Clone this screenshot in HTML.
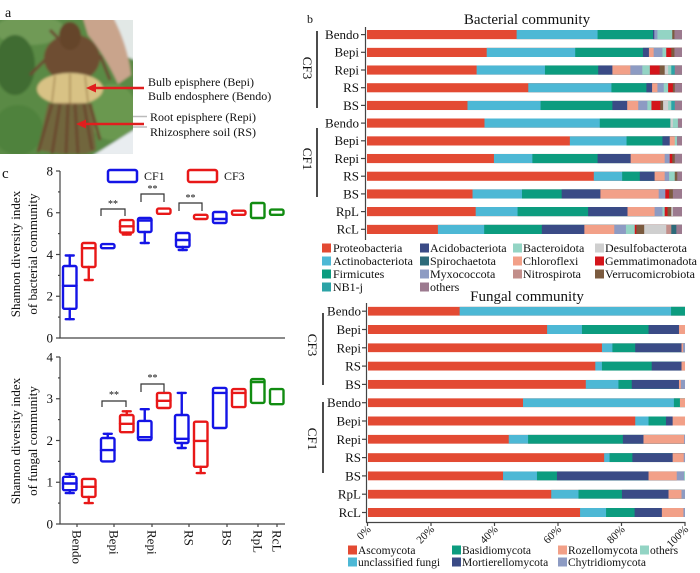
<!DOCTYPE html>
<html><head><meta charset="utf-8"><style>
html,body{margin:0;padding:0;background:#fff;width:700px;height:573px;overflow:hidden}
svg{display:block}
text{font-family:"Liberation Serif",serif;fill:#111}
.P{fill:#E34A33}.A{fill:#4DB8D5}.F{fill:#0C9C7F}.N{fill:#2BA3A6}.Ac{fill:#3A4B86}.S{fill:#2D6B7A}.M{fill:#8D9BC3}.O{fill:#9C7A8F}.B{fill:#93D4C4}.C{fill:#F2A088}.Ni{fill:#C28E8A}.D{fill:#CFCFCF}.G{fill:#D4151B}.V{fill:#7B5B3F}
.lb{font-size:13px;text-anchor:end}
.lg{font-size:12px}
.lf{font-size:11.5px}
.ax{stroke:#444;stroke-width:1.2;fill:none}
.bx rect{fill:#fff}
.bl{stroke:#1414E6}.rd{stroke:#E81818}.gn{stroke:#118C11}
.bx{stroke-width:2.4;fill:none;stroke-linecap:round}
</style></head><body>
<svg width="700" height="573" viewBox="0 0 700 573" xmlns="http://www.w3.org/2000/svg">
<defs>
<clipPath id="pc"><rect x="0" y="20" width="133" height="134"/></clipPath>
<filter id="bl1" x="-5%" y="-5%" width="110%" height="110%"><feGaussianBlur stdDeviation="1.3"/></filter>
</defs>

<!-- Panel a -->
<text x="5" y="17" style="font-size:14px">a</text>
<g clip-path="url(#pc)">
<g filter="url(#bl1)">
<rect x="-5" y="15" width="145" height="145" fill="#5a8a45"/>
<ellipse cx="30" cy="30" rx="35" ry="15" fill="#6f9a56"/>
<ellipse cx="15" cy="65" rx="20" ry="30" fill="#3f6c30"/>
<ellipse cx="18" cy="130" rx="25" ry="25" fill="#4f823c"/>
<ellipse cx="112" cy="112" rx="25" ry="28" fill="#6a9850"/>
<polygon points="106,15 140,15 140,62 122,55" fill="#e2e8e6"/>
<path d="M82 15 L112 15 Q128 45 131 75 L118 84 Q105 55 88 35 Z" fill="#c9a48c"/>
<ellipse cx="72" cy="58" rx="28" ry="24" fill="#6e4e33"/>
<ellipse cx="70" cy="36" rx="11" ry="14" fill="#654529"/>
<path d="M45 60 L30 75 M100 55 L110 80 M60 40 L50 30" stroke="#6a4a30" stroke-width="3"/>
<ellipse cx="70" cy="89" rx="33" ry="16" fill="#d8c285"/>
<path d="M55 76 L52 102 M70 74 L70 105 M85 76 L88 102" stroke="#a88a55" stroke-width="1.5"/>
<polygon points="48,103 92,103 96,150 86,154 60,154 38,150" fill="#7a5a3c" opacity="0.75"/>
<path d="M52 104 L38 152 M60 104 L52 154 M68 104 L66 154 M75 104 L78 154 M84 104 L92 150 M90 104 L100 140" stroke="#6a4a2e" stroke-width="3"/>
<polygon points="92,156 140,126 140,156" fill="#e9edf0"/>
</g>
</g>
<line x1="133" y1="116.5" x2="147" y2="116.5" stroke="#bbb" stroke-width="1.5"/>
<line x1="133" y1="127" x2="147" y2="127" stroke="#bbb" stroke-width="1.5"/>
<line x1="94" y1="88" x2="144" y2="88" stroke="#E01E1E" stroke-width="2.5"/>
<polygon points="86,88 96,83.5 96,92.5" fill="#E01E1E"/>
<line x1="84" y1="124" x2="144" y2="124" stroke="#E01E1E" stroke-width="2.5"/>
<polygon points="76,124 86,119.5 86,128.5" fill="#E01E1E"/>
<text x="148" y="86" style="font-size:12px">Bulb episphere (Bepi)</text>
<text x="148" y="100" style="font-size:12px">Bulb endosphere (Bendo)</text>
<text x="150" y="121" style="font-size:12px">Root episphere (Repi)</text>
<text x="150" y="136" style="font-size:12px">Rhizosphere soil (RS)</text>

<!-- Panel b bacterial -->
<text x="307" y="23" style="font-size:12px">b</text>
<text x="527" y="24" style="font-size:15px;text-anchor:middle">Bacterial community</text>
<line class="ax" x1="365.5" y1="27" x2="365.5" y2="240"/>
<g class="ax">
<line x1="361" x2="366" y1="34.6" y2="34.6"/><line x1="361" x2="366" y1="52.3" y2="52.3"/><line x1="361" x2="366" y1="70" y2="70"/><line x1="361" x2="366" y1="87.7" y2="87.7"/><line x1="361" x2="366" y1="105.4" y2="105.4"/><line x1="361" x2="366" y1="123.1" y2="123.1"/><line x1="361" x2="366" y1="140.8" y2="140.8"/><line x1="361" x2="366" y1="158.5" y2="158.5"/><line x1="361" x2="366" y1="176.2" y2="176.2"/><line x1="361" x2="366" y1="193.9" y2="193.9"/><line x1="361" x2="366" y1="211.6" y2="211.6"/><line x1="361" x2="366" y1="229.3" y2="229.3"/>
</g>
<text class="lb" x="359" y="39">Bendo</text>
<text class="lb" x="359" y="56.7">Bepi</text>
<text class="lb" x="359" y="74.4">Repi</text>
<text class="lb" x="359" y="92.1">RS</text>
<text class="lb" x="359" y="109.8">BS</text>
<text class="lb" x="359" y="127.5">Bendo</text>
<text class="lb" x="359" y="145.2">Bepi</text>
<text class="lb" x="359" y="162.9">Repi</text>
<text class="lb" x="359" y="180.6">RS</text>
<text class="lb" x="359" y="198.3">BS</text>
<text class="lb" x="359" y="216">RpL</text>
<text class="lb" x="359" y="233.7">RcL</text>
<line x1="317" y1="31" x2="317" y2="108" stroke="#111" stroke-width="1.5"/>
<line x1="317" y1="128" x2="317" y2="197" stroke="#111" stroke-width="1.5"/>
<text transform="translate(303,68) rotate(90)" style="font-size:13px;text-anchor:middle">CF3</text>
<text transform="translate(303,159) rotate(90)" style="font-size:13px;text-anchor:middle">CF1</text>

<!-- bacterial bars -->
<svg x="367" y="30" width="315" height="9.3" viewBox="0 0 100 1" preserveAspectRatio="none"><rect class="P" width="100" height="1"/><rect class="A" x="47.5" width="100" height="1"/><rect class="F" x="73.2" width="100" height="1"/><rect class="Ac" x="90.8" width="100" height="1"/><rect class="M" x="91.2" width="100" height="1"/><rect class="B" x="92.2" width="100" height="1"/><rect class="V" x="96.9" width="100" height="1"/><rect class="O" x="97.6" width="100" height="1"/></svg>
<svg x="367" y="47.7" width="315" height="9.3" viewBox="0 0 100 1" preserveAspectRatio="none"><rect class="P" width="100" height="1"/><rect class="A" x="38" width="100" height="1"/><rect class="F" x="66.1" width="100" height="1"/><rect class="Ac" x="87.6" width="100" height="1"/><rect class="C" x="89.5" width="100" height="1"/><rect class="M" x="91" width="100" height="1"/><rect class="B" x="93.8" width="100" height="1"/><rect class="G" x="95" width="100" height="1"/><rect class="V" x="96.6" width="100" height="1"/><rect class="O" x="97.6" width="100" height="1"/></svg>
<svg x="367" y="65.4" width="315" height="9.3" viewBox="0 0 100 1" preserveAspectRatio="none"><rect class="P" width="100" height="1"/><rect class="A" x="34.8" width="100" height="1"/><rect class="F" x="56.5" width="100" height="1"/><rect class="Ac" x="73.4" width="100" height="1"/><rect class="C" x="77.9" width="100" height="1"/><rect class="M" x="83.6" width="100" height="1"/><rect class="B" x="87.4" width="100" height="1"/><rect class="G" x="89.8" width="100" height="1"/><rect class="V" x="92.9" width="100" height="1"/><rect class="D" x="94.5" width="100" height="1"/><rect class="B" x="95.6" width="100" height="1"/><rect class="N" x="96.6" width="100" height="1"/><rect class="O" x="97.7" width="100" height="1"/></svg>
<svg x="367" y="83.1" width="315" height="9.3" viewBox="0 0 100 1" preserveAspectRatio="none"><rect class="P" width="100" height="1"/><rect class="A" x="51.2" width="100" height="1"/><rect class="F" x="77.6" width="100" height="1"/><rect class="Ac" x="88.7" width="100" height="1"/><rect class="C" x="90.5" width="100" height="1"/><rect class="M" x="92.2" width="100" height="1"/><rect class="B" x="94.2" width="100" height="1"/><rect class="G" x="95.6" width="100" height="1"/><rect class="V" x="97.1" width="100" height="1"/><rect class="O" x="97.7" width="100" height="1"/></svg>
<svg x="367" y="100.8" width="315" height="9.3" viewBox="0 0 100 1" preserveAspectRatio="none"><rect class="P" width="100" height="1"/><rect class="A" x="31.9" width="100" height="1"/><rect class="F" x="55.1" width="100" height="1"/><rect class="Ac" x="77.9" width="100" height="1"/><rect class="C" x="82.6" width="100" height="1"/><rect class="M" x="86.1" width="100" height="1"/><rect class="B" x="89" width="100" height="1"/><rect class="G" x="90.3" width="100" height="1"/><rect class="V" x="93.1" width="100" height="1"/><rect class="D" x="94" width="100" height="1"/><rect class="B" x="95.6" width="100" height="1"/><rect class="N" x="96.6" width="100" height="1"/><rect class="O" x="97.7" width="100" height="1"/></svg>
<svg x="367" y="118.5" width="315" height="9.3" viewBox="0 0 100 1" preserveAspectRatio="none"><rect class="P" width="100" height="1"/><rect class="A" x="37.3" width="100" height="1"/><rect class="F" x="73.9" width="100" height="1"/><rect class="D" x="96.3" width="100" height="1"/><rect class="B" x="97.1" width="100" height="1"/><rect class="O" x="98.7" width="100" height="1"/></svg>
<svg x="367" y="136.2" width="315" height="9.3" viewBox="0 0 100 1" preserveAspectRatio="none"><rect class="P" width="100" height="1"/><rect class="A" x="64.4" width="100" height="1"/><rect class="F" x="82.4" width="100" height="1"/><rect class="Ac" x="93.8" width="100" height="1"/><rect class="C" x="96.1" width="100" height="1"/><rect class="B" x="97.7" width="100" height="1"/><rect class="O" x="98.4" width="100" height="1"/></svg>
<svg x="367" y="153.9" width="315" height="9.3" viewBox="0 0 100 1" preserveAspectRatio="none"><rect class="P" width="100" height="1"/><rect class="A" x="40.3" width="100" height="1"/><rect class="F" x="52.5" width="100" height="1"/><rect class="Ac" x="73.2" width="100" height="1"/><rect class="C" x="83.7" width="100" height="1"/><rect class="M" x="94.5" width="100" height="1"/><rect class="G" x="96.1" width="100" height="1"/><rect class="V" x="96.9" width="100" height="1"/><rect class="O" x="97.7" width="100" height="1"/></svg>
<svg x="367" y="171.6" width="315" height="9.3" viewBox="0 0 100 1" preserveAspectRatio="none"><rect class="P" width="100" height="1"/><rect class="A" x="72" width="100" height="1"/><rect class="F" x="81" width="100" height="1"/><rect class="Ac" x="86.6" width="100" height="1"/><rect class="C" x="91.3" width="100" height="1"/><rect class="M" x="94.5" width="100" height="1"/><rect class="B" x="95.9" width="100" height="1"/><rect class="V" x="97.7" width="100" height="1"/><rect class="O" x="98.5" width="100" height="1"/></svg>
<svg x="367" y="189.3" width="315" height="9.3" viewBox="0 0 100 1" preserveAspectRatio="none"><rect class="P" width="100" height="1"/><rect class="A" x="33.5" width="100" height="1"/><rect class="F" x="49.2" width="100" height="1"/><rect class="Ac" x="61.8" width="100" height="1"/><rect class="C" x="74.1" width="100" height="1"/><rect class="M" x="92.6" width="100" height="1"/><rect class="G" x="94.7" width="100" height="1"/><rect class="V" x="95.9" width="100" height="1"/><rect class="O" x="97.1" width="100" height="1"/></svg>
<svg x="367" y="207" width="315" height="9.3" viewBox="0 0 100 1" preserveAspectRatio="none"><rect class="P" width="100" height="1"/><rect class="A" x="34.5" width="100" height="1"/><rect class="F" x="47.8" width="100" height="1"/><rect class="Ac" x="70.2" width="100" height="1"/><rect class="C" x="82.7" width="100" height="1"/><rect class="M" x="91.3" width="100" height="1"/><rect class="B" x="93.8" width="100" height="1"/><rect class="G" x="94.5" width="100" height="1"/><rect class="V" x="95.4" width="100" height="1"/><rect class="D" x="96.6" width="100" height="1"/><rect class="O" x="97.1" width="100" height="1"/></svg>
<svg x="367" y="224.7" width="315" height="9.3" viewBox="0 0 100 1" preserveAspectRatio="none"><rect class="P" width="100" height="1"/><rect class="A" x="22.5" width="100" height="1"/><rect class="F" x="37.2" width="100" height="1"/><rect class="Ac" x="55.5" width="100" height="1"/><rect class="C" x="69" width="100" height="1"/><rect class="M" x="78.5" width="100" height="1"/><rect class="B" x="82.2" width="100" height="1"/><rect class="G" x="85" width="100" height="1"/><rect class="V" x="85.5" width="100" height="1"/><rect class="D" x="88" width="100" height="1"/><rect class="Ni" x="95" width="100" height="1"/><rect class="S" x="96.6" width="100" height="1"/><rect class="O" x="98.2" width="100" height="1"/></svg>

<!-- bacterial legend -->
<rect class="P" x="322" y="243.5" width="9" height="9"/><text class="lg" x="333" y="252">Proteobacteria</text>
<rect class="A" x="322" y="256.5" width="9" height="9"/><text class="lg" x="333" y="265">Actinobacteriota</text>
<rect class="F" x="322" y="269.5" width="9" height="9"/><text class="lg" x="333" y="278">Firmicutes</text>
<rect class="N" x="322" y="282.5" width="9" height="9"/><text class="lg" x="333" y="291">NB1-j</text>
<rect class="Ac" x="420" y="243.5" width="9" height="9"/><text class="lg" x="430" y="252">Acidobacteriota</text>
<rect class="S" x="420" y="256.5" width="9" height="9"/><text class="lg" x="430" y="265">Spirochaetota</text>
<rect class="M" x="420" y="269.5" width="9" height="9"/><text class="lg" x="430" y="278">Myxococcota</text>
<rect class="O" x="420" y="282.5" width="9" height="9"/><text class="lg" x="430" y="291">others</text>
<rect class="B" x="513" y="243.5" width="9" height="9"/><text class="lg" x="523" y="252">Bacteroidota</text>
<rect class="C" x="513" y="256.5" width="9" height="9"/><text class="lg" x="523" y="265">Chloroflexi</text>
<rect class="Ni" x="513" y="269.5" width="9" height="9"/><text class="lg" x="523" y="278">Nitrospirota</text>
<rect class="D" x="595" y="243.5" width="9" height="9"/><text class="lg" x="605" y="252">Desulfobacterota</text>
<rect class="G" x="595" y="256.5" width="9" height="9"/><text class="lg" x="605" y="265">Gemmatimonadota</text>
<rect class="V" x="595" y="269.5" width="9" height="9"/><text class="lg" x="605" y="278">Verrucomicrobiota</text>

<!-- Fungal -->
<text x="527" y="301" style="font-size:15px;text-anchor:middle">Fungal community</text>
<line class="ax" x1="366.5" y1="303" x2="366.5" y2="522.5"/>
<line class="ax" x1="366" y1="522.5" x2="685.5" y2="522.5"/>
<g class="ax">
<line x1="367.5" x2="367.5" y1="522" y2="526"/><line x1="431" x2="431" y1="522" y2="526"/><line x1="494.5" x2="494.5" y1="522" y2="526"/><line x1="558" x2="558" y1="522" y2="526"/><line x1="621.5" x2="621.5" y1="522" y2="526"/><line x1="685" x2="685" y1="522" y2="526"/>
<line x1="362" x2="367" y1="311.2" y2="311.2"/><line x1="362" x2="367" y1="329.5" y2="329.5"/><line x1="362" x2="367" y1="347.8" y2="347.8"/><line x1="362" x2="367" y1="366.1" y2="366.1"/><line x1="362" x2="367" y1="384.4" y2="384.4"/><line x1="362" x2="367" y1="402.7" y2="402.7"/><line x1="362" x2="367" y1="421" y2="421"/><line x1="362" x2="367" y1="439.3" y2="439.3"/><line x1="362" x2="367" y1="457.6" y2="457.6"/><line x1="362" x2="367" y1="475.9" y2="475.9"/><line x1="362" x2="367" y1="494.2" y2="494.2"/><line x1="362" x2="367" y1="512.5" y2="512.5"/>
</g>
<text class="lb" x="361" y="315.7">Bendo</text>
<text class="lb" x="361" y="334">Bepi</text>
<text class="lb" x="361" y="352.3">Repi</text>
<text class="lb" x="361" y="370.6">RS</text>
<text class="lb" x="361" y="388.9">BS</text>
<text class="lb" x="361" y="407.2">Bendo</text>
<text class="lb" x="361" y="425.5">Bepi</text>
<text class="lb" x="361" y="443.8">Repi</text>
<text class="lb" x="361" y="462.1">RS</text>
<text class="lb" x="361" y="480.4">BS</text>
<text class="lb" x="361" y="498.7">RpL</text>
<text class="lb" x="361" y="517">RcL</text>
<line x1="323" y1="313" x2="323" y2="385" stroke="#111" stroke-width="1.5"/>
<line x1="323" y1="402" x2="323" y2="473" stroke="#111" stroke-width="1.5"/>
<text transform="translate(308,345) rotate(90)" style="font-size:13px;text-anchor:middle">CF3</text>
<text transform="translate(308,439) rotate(90)" style="font-size:13px;text-anchor:middle">CF1</text>
<g style="font-size:11px;text-anchor:end">
<text transform="translate(371.5,530) rotate(-45)">0%</text>
<text transform="translate(435,530) rotate(-45)">20%</text>
<text transform="translate(498.5,530) rotate(-45)">40%</text>
<text transform="translate(562,530) rotate(-45)">60%</text>
<text transform="translate(625.5,530) rotate(-45)">80%</text>
<text transform="translate(689,530) rotate(-45)">100%</text>
</g>

<svg x="368" y="306.7" width="317" height="9" viewBox="0 0 100 1" preserveAspectRatio="none"><rect class="P" width="100" height="1"/><rect class="A" x="28.9" width="100" height="1"/><rect class="F" x="95.6" width="100" height="1"/></svg>
<svg x="368" y="325" width="317" height="9" viewBox="0 0 100 1" preserveAspectRatio="none"><rect class="P" width="100" height="1"/><rect class="A" x="56.5" width="100" height="1"/><rect class="F" x="67.5" width="100" height="1"/><rect class="Ac" x="88.5" width="100" height="1"/><rect class="C" x="98.1" width="100" height="1"/></svg>
<svg x="368" y="343.3" width="317" height="9" viewBox="0 0 100 1" preserveAspectRatio="none"><rect class="P" width="100" height="1"/><rect class="A" x="73.8" width="100" height="1"/><rect class="F" x="77.1" width="100" height="1"/><rect class="Ac" x="84.3" width="100" height="1"/><rect class="C" x="98.9" width="100" height="1"/><rect class="M" x="99.4" width="100" height="1"/></svg>
<svg x="368" y="361.6" width="317" height="9" viewBox="0 0 100 1" preserveAspectRatio="none"><rect class="P" width="100" height="1"/><rect class="A" x="71.7" width="100" height="1"/><rect class="F" x="73.8" width="100" height="1"/><rect class="Ac" x="89.5" width="100" height="1"/><rect class="C" x="98.9" width="100" height="1"/></svg>
<svg x="368" y="379.9" width="317" height="9" viewBox="0 0 100 1" preserveAspectRatio="none"><rect class="P" width="100" height="1"/><rect class="A" x="68.7" width="100" height="1"/><rect class="F" x="79" width="100" height="1"/><rect class="Ac" x="83.2" width="100" height="1"/><rect class="C" x="98.1" width="100" height="1"/><rect class="M" x="98.7" width="100" height="1"/></svg>
<svg x="368" y="398.2" width="317" height="9" viewBox="0 0 100 1" preserveAspectRatio="none"><rect class="P" width="100" height="1"/><rect class="A" x="48.9" width="100" height="1"/><rect class="F" x="96.5" width="100" height="1"/><rect class="C" x="98.4" width="100" height="1"/></svg>
<svg x="368" y="416.5" width="317" height="9" viewBox="0 0 100 1" preserveAspectRatio="none"><rect class="P" width="100" height="1"/><rect class="A" x="84.3" width="100" height="1"/><rect class="F" x="88.5" width="100" height="1"/><rect class="Ac" x="94" width="100" height="1"/><rect class="C" x="96.1" width="100" height="1"/></svg>
<svg x="368" y="434.8" width="317" height="9" viewBox="0 0 100 1" preserveAspectRatio="none"><rect class="P" width="100" height="1"/><rect class="A" x="44.4" width="100" height="1"/><rect class="F" x="50.5" width="100" height="1"/><rect class="Ac" x="80.4" width="100" height="1"/><rect class="C" x="86.9" width="100" height="1"/><rect class="M" x="99.7" width="100" height="1"/></svg>
<svg x="368" y="453.1" width="317" height="9" viewBox="0 0 100 1" preserveAspectRatio="none"><rect class="P" width="100" height="1"/><rect class="A" x="74.5" width="100" height="1"/><rect class="F" x="76.2" width="100" height="1"/><rect class="Ac" x="83.4" width="100" height="1"/><rect class="C" x="96.1" width="100" height="1"/><rect class="M" x="99.6" width="100" height="1"/></svg>
<svg x="368" y="471.4" width="317" height="9" viewBox="0 0 100 1" preserveAspectRatio="none"><rect class="P" width="100" height="1"/><rect class="A" x="42.6" width="100" height="1"/><rect class="F" x="53.3" width="100" height="1"/><rect class="Ac" x="59.6" width="100" height="1"/><rect class="C" x="88.5" width="100" height="1"/><rect class="M" x="97.4" width="100" height="1"/><rect class="B" x="99.7" width="100" height="1"/></svg>
<svg x="368" y="489.7" width="317" height="9" viewBox="0 0 100 1" preserveAspectRatio="none"><rect class="P" width="100" height="1"/><rect class="A" x="57.8" width="100" height="1"/><rect class="F" x="66.4" width="100" height="1"/><rect class="Ac" x="80.1" width="100" height="1"/><rect class="C" x="94.8" width="100" height="1"/><rect class="M" x="98.9" width="100" height="1"/></svg>
<svg x="368" y="508" width="317" height="9" viewBox="0 0 100 1" preserveAspectRatio="none"><rect class="P" width="100" height="1"/><rect class="A" x="66.9" width="100" height="1"/><rect class="F" x="75.1" width="100" height="1"/><rect class="Ac" x="84.1" width="100" height="1"/><rect class="C" x="92.7" width="100" height="1"/><rect class="M" x="99.5" width="100" height="1"/></svg>

<!-- fungal legend -->
<rect class="P" x="348" y="545.5" width="9" height="9"/><text class="lf" x="358" y="554">Ascomycota</text>
<rect class="A" x="348" y="557.5" width="9" height="9"/><text class="lf" x="358" y="566">unclassified fungi</text>
<rect class="F" x="452" y="545.5" width="9" height="9"/><text class="lf" x="462" y="554">Basidiomycota</text>
<rect class="Ac" x="452" y="557.5" width="9" height="9"/><text class="lf" x="462" y="566">Mortierellomycota</text>
<rect class="C" x="558" y="545.5" width="9" height="9"/><text class="lf" x="568" y="554">Rozellomycota</text>
<rect class="M" x="558" y="557.5" width="9" height="9"/><text class="lf" x="568" y="566">Chytridiomycota</text>
<rect class="B" x="640" y="545.5" width="9" height="9"/><text class="lf" x="650" y="554">others</text>

<!-- Panel c -->
<text x="2" y="178" style="font-size:15px">c</text>
<rect x="108" y="170" width="29" height="12" rx="2" fill="none" stroke="#1414E6" stroke-width="2.5"/>
<text x="144" y="180" style="font-size:12px">CF1</text>
<rect x="188" y="170" width="29" height="12" rx="2" fill="none" stroke="#E81818" stroke-width="2.5"/>
<text x="224" y="180" style="font-size:12px">CF3</text>

<!-- top axes -->
<path class="ax" d="M60 171 V338 H285"/>
<g class="ax">
<line x1="56" x2="60" y1="338" y2="338"/><line x1="56" x2="60" y1="296.25" y2="296.25"/><line x1="56" x2="60" y1="254.5" y2="254.5"/><line x1="56" x2="60" y1="212.75" y2="212.75"/><line x1="56" x2="60" y1="171" y2="171"/>
<line x1="58" x2="60" y1="317.1" y2="317.1"/><line x1="58" x2="60" y1="275.4" y2="275.4"/><line x1="58" x2="60" y1="233.6" y2="233.6"/><line x1="58" x2="60" y1="191.9" y2="191.9"/>
</g>
<g style="font-size:13px;text-anchor:end">
<text x="53" y="342.5">0</text><text x="53" y="300.7">2</text><text x="53" y="259">4</text><text x="53" y="217.2">6</text><text x="53" y="175.5">8</text>
</g>
<text transform="translate(20,254) rotate(-90)" style="font-size:13px;text-anchor:middle">Shannon diversity index</text>
<text transform="translate(37,254) rotate(-90)" style="font-size:13px;text-anchor:middle">of bacterial community</text>

<g class="bx bl">
<rect x="63" y="266" width="13.5" height="42.8" rx="1.5"/><line x1="63" x2="76.5" y1="285.8" y2="285.8"/><line x1="69.75" x2="69.75" y1="255.5" y2="266"/><line x1="65.75" x2="73.75" y1="255.5" y2="255.5"/><line x1="69.75" x2="69.75" y1="308.8" y2="319.2"/><line x1="65.75" x2="73.75" y1="319.2" y2="319.2"/>
<rect x="101" y="244.1" width="13.5" height="4.1" rx="1.5"/>
<rect x="138" y="218" width="13.5" height="14" rx="1.5"/><line x1="138" x2="151.5" y1="220.5" y2="220.5"/><line x1="144.75" x2="144.75" y1="232" y2="243"/><line x1="140.75" x2="148.75" y1="243" y2="243"/>
<rect x="176" y="233" width="13.5" height="14" rx="1.5"/><line x1="176" x2="189.5" y1="240" y2="240"/><line x1="182.75" x2="182.75" y1="247" y2="250"/><line x1="178.75" x2="186.75" y1="250" y2="250"/>
<rect x="213" y="212" width="13.5" height="11" rx="1.5"/><line x1="213" x2="226.5" y1="219" y2="219"/>
</g>
<g class="bx rd">
<rect x="82" y="243" width="13.5" height="24" rx="1.5"/><line x1="82" x2="95.5" y1="248.2" y2="248.2"/><line x1="88.75" x2="88.75" y1="267" y2="280"/><line x1="84.75" x2="92.75" y1="280" y2="280"/>
<rect x="120" y="220.1" width="13.5" height="12.5" rx="1.5"/><line x1="120" x2="133.5" y1="226.3" y2="226.3"/><line x1="126.75" x2="126.75" y1="232.6" y2="234.5"/><line x1="122.75" x2="130.75" y1="234.5" y2="234.5"/>
<rect x="157" y="208.6" width="13.5" height="5.2" rx="1.5"/>
<rect x="194" y="214.8" width="13.5" height="4.2" rx="1.5"/>
<rect x="232" y="210.7" width="13.5" height="4.1" rx="1.5"/>
</g>
<g class="bx gn">
<rect x="251" y="203" width="13.5" height="15" rx="1.5"/>
<rect x="270" y="209.6" width="13.5" height="5.2" rx="1.5"/>
</g>
<g stroke="#333" stroke-width="1.2" fill="none">
<path d="M101 216 V209 H125 V216"/>
<path d="M141 202 V194 H164 V202"/>
<path d="M179 211 V203 H202 V211"/>
</g>
<g style="font-size:10px;text-anchor:middle;fill:#333">
<text x="113" y="207">**</text><text x="152.5" y="192">**</text><text x="190.5" y="201">**</text>
</g>

<!-- bottom axes -->
<path class="ax" d="M60 357 V524 H285"/>
<g class="ax">
<line x1="56" x2="60" y1="524" y2="524"/><line x1="56" x2="60" y1="482.25" y2="482.25"/><line x1="56" x2="60" y1="440.5" y2="440.5"/><line x1="56" x2="60" y1="398.75" y2="398.75"/><line x1="56" x2="60" y1="357" y2="357"/>
<line x1="58" x2="60" y1="503.1" y2="503.1"/><line x1="58" x2="60" y1="461.4" y2="461.4"/><line x1="58" x2="60" y1="419.6" y2="419.6"/><line x1="58" x2="60" y1="377.9" y2="377.9"/>
<line x1="77" x2="77" y1="524" y2="527"/><line x1="114" x2="114" y1="524" y2="527"/><line x1="152" x2="152" y1="524" y2="527"/><line x1="189" x2="189" y1="524" y2="527"/><line x1="227" x2="227" y1="524" y2="527"/><line x1="258" x2="258" y1="524" y2="527"/><line x1="277" x2="277" y1="524" y2="527"/>
</g>
<g style="font-size:13px;text-anchor:end">
<text x="53" y="528.5">0</text><text x="53" y="486.7">1</text><text x="53" y="445">2</text><text x="53" y="403.2">3</text><text x="53" y="361.5">4</text>
</g>
<text transform="translate(20,441) rotate(-90)" style="font-size:13px;text-anchor:middle">Shannon diversity index</text>
<text transform="translate(37,441) rotate(-90)" style="font-size:13px;text-anchor:middle">of fungal community</text>
<g style="font-size:13px">
<text transform="translate(72.5,530) rotate(90)">Bendo</text>
<text transform="translate(109.5,530) rotate(90)">Bepi</text>
<text transform="translate(147.5,530) rotate(90)">Repi</text>
<text transform="translate(184.5,530) rotate(90)">RS</text>
<text transform="translate(222.5,530) rotate(90)">BS</text>
<text transform="translate(253.5,530) rotate(90)">RpL</text>
<text transform="translate(272.5,530) rotate(90)">RcL</text>
</g>

<g class="bx bl">
<rect x="63" y="476.8" width="13.5" height="13.4" rx="1.5"/><line x1="63" x2="76.5" y1="483.5" y2="483.5"/><line x1="69.75" x2="69.75" y1="473.9" y2="476.8"/><line x1="65.75" x2="73.75" y1="473.9" y2="473.9"/><line x1="69.75" x2="69.75" y1="490.2" y2="493.1"/><line x1="65.75" x2="73.75" y1="493.1" y2="493.1"/>
<rect x="101" y="438" width="13.5" height="23.4" rx="1.5"/><line x1="101" x2="114.5" y1="450.1" y2="450.1"/><line x1="107.75" x2="107.75" y1="433.8" y2="438"/><line x1="103.75" x2="111.75" y1="433.8" y2="433.8"/>
<rect x="138" y="420.9" width="13.5" height="19.2" rx="1.5"/><line x1="138" x2="151.5" y1="437.2" y2="437.2"/><line x1="144.75" x2="144.75" y1="409.2" y2="420.9"/><line x1="140.75" x2="148.75" y1="409.2" y2="409.2"/>
<rect x="175" y="415" width="13.5" height="28" rx="1.5"/><line x1="175" x2="188.5" y1="438.8" y2="438.8"/><line x1="181.75" x2="181.75" y1="392.9" y2="415"/><line x1="177.75" x2="185.75" y1="392.9" y2="392.9"/><line x1="181.75" x2="181.75" y1="443" y2="448"/><line x1="177.75" x2="185.75" y1="448" y2="448"/>
<rect x="213" y="387.9" width="13.5" height="40.1" rx="1.5"/><line x1="213" x2="226.5" y1="392.9" y2="392.9"/>
</g>
<g class="bx rd">
<rect x="82" y="478.9" width="13.5" height="18" rx="1.5"/><line x1="82" x2="95.5" y1="486.8" y2="486.8"/><line x1="88.75" x2="88.75" y1="496.9" y2="503.1"/><line x1="84.75" x2="92.75" y1="503.1" y2="503.1"/>
<rect x="120" y="415" width="13.5" height="17.2" rx="1.5"/><line x1="120" x2="133.5" y1="423.8" y2="423.8"/><line x1="126.75" x2="126.75" y1="411.3" y2="415"/><line x1="122.75" x2="130.75" y1="411.3" y2="411.3"/>
<rect x="157" y="392.9" width="13.5" height="15.1" rx="1.5"/><line x1="157" x2="170.5" y1="400.8" y2="400.8"/>
<rect x="194" y="421.7" width="13.5" height="45.1" rx="1.5"/><line x1="194" x2="207.5" y1="440.9" y2="440.9"/><line x1="200.75" x2="200.75" y1="466.8" y2="473.1"/><line x1="196.75" x2="204.75" y1="473.1" y2="473.1"/>
<rect x="232" y="389.1" width="13.5" height="18" rx="1.5"/><line x1="232" x2="245.5" y1="392.9" y2="392.9"/>
</g>
<g class="bx gn">
<rect x="251" y="379.1" width="13.5" height="23.8" rx="1.5"/><line x1="251" x2="264.5" y1="382" y2="382"/>
<rect x="270" y="389.1" width="13.5" height="15.1" rx="1.5"/>
</g>
<g stroke="#333" stroke-width="1.2" fill="none">
<path d="M102 407 V401 H126 V407"/>
<path d="M141 392 V384 H164 V392"/>
</g>
<g style="font-size:10px;text-anchor:middle;fill:#333">
<text x="114" y="398">**</text><text x="152.5" y="381">**</text>
</g>
</svg>
</body></html>
